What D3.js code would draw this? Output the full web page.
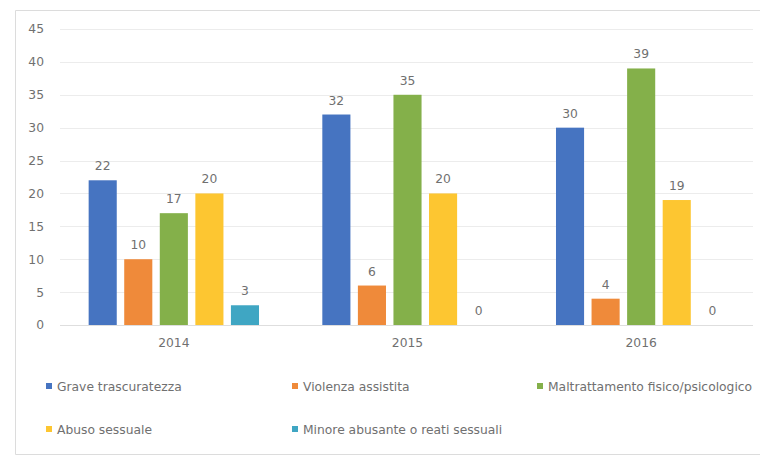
<!DOCTYPE html>
<html>
<head>
<meta charset="utf-8">
<script src="https://cdn.jsdelivr.net/npm/d3@7"></script>
<style>
  html, body { margin: 0; padding: 0; background: #fff; overflow: hidden; }
  svg { display: block; }
  text { font-family: "DejaVu Sans", sans-serif; fill: #707070; }
</style>
</head>
<body>
<svg id="chart" width="760" height="457"></svg>
<script>
// Anni e categorie di casi
const years = ["2014", "2015", "2016"];
const seriesNames = [
  "Grave trascuratezza",
  "Violenza assistita",
  "Maltrattamento fisico/psicologico",
  "Abuso sessuale",
  "Minore abusante o reati sessuali"
];
const graveTrascuratezza = [22, 32, 30];
const violenzaAssistita = [10, 6, 4];
const maltrattamento = [17, 35, 39];
const abusoSessuale = [20, 20, 19];
const minoreAbusante = [3, 0, 0];
const yTicks = [0, 5, 10, 15, 20, 25, 30, 35, 40, 45];
const seriesColors = ["#4674c1", "#ef8a3a", "#84b04a", "#fdc631", "#3fa6c3"];

const seriesValues = [graveTrascuratezza, violenzaAssistita, maltrattamento, abusoSessuale, minoreAbusante];
const FONT = "'DejaVu Sans', sans-serif";
const FS = 12.3;

const svg = d3.select("#chart");

// cornice dell'area grafico: lato sinistro, superiore e inferiore
svg.append("path")
  .attr("d", "M760,10.5 H15.5 V454.5 H760")
  .attr("fill", "none").attr("stroke", "#dcdcdc").attr("stroke-width", 1);

const plot = { left: 57, right: 758, top: 29, bottom: 325 };

const y = d3.scaleLinear().domain([0, 45]).range([plot.bottom, plot.top]);
const x0 = d3.scaleBand().domain(years).range([plot.left, plot.right]).padding(0);
const x1 = d3.scaleBand().domain(seriesNames)
  .range([0, x0.bandwidth()])
  .paddingInner(0.21).paddingOuter(0.89);

// griglia orizzontale
svg.append("g")
  .selectAll("line")
  .data(yTicks)
  .join("line")
  .attr("x1", 60).attr("x2", 753)
  .attr("y1", d => Math.round(y(d)) + 0.5)
  .attr("y2", d => Math.round(y(d)) + 0.5)
  .attr("stroke", d => d === 0 ? "#dedede" : "#ececec")
  .attr("stroke-width", 1);

// asse y
const yAxis = d3.axisLeft(y).tickValues(yTicks).tickSize(0).tickPadding(0);
svg.append("g")
  .attr("transform", "translate(44,0)")
  .call(yAxis)
  .call(g => g.select(".domain").remove())
  .call(g => g.selectAll("text")
    .attr("font-size", FS)
    .attr("fill", "#707070")
    .style("font-family", FONT));

// asse x (anni)
const xAxis = d3.axisBottom(x0).tickSize(0).tickPadding(0);
svg.append("g")
  .attr("transform", `translate(0,${plot.bottom + 13})`)
  .call(xAxis)
  .call(g => g.select(".domain").remove())
  .call(g => g.selectAll("text")
    .attr("font-size", FS)
    .attr("fill", "#707070")
    .style("font-family", FONT));

// barre raggruppate
const rows = years.map((yr, i) => ({
  year: yr,
  values: seriesNames.map((s, k) => ({ series: s, k, value: seriesValues[k][i] }))
}));

const groups = svg.append("g")
  .selectAll("g")
  .data(rows)
  .join("g")
  .attr("transform", d => `translate(${x0(d.year)},0)`);

groups.selectAll("rect")
  .data(d => d.values)
  .join("rect")
  .attr("x", d => x1(d.series))
  .attr("y", d => y(d.value))
  .attr("width", x1.bandwidth())
  .attr("height", d => y(0) - y(d.value))
  .attr("fill", d => seriesColors[d.k]);

groups.selectAll("text")
  .data(d => d.values)
  .join("text")
  .attr("x", d => x1(d.series) + x1.bandwidth() / 2)
  .attr("y", d => y(d.value) - 10)
  .attr("text-anchor", "middle")
  .attr("font-size", FS)
  .text(d => d.value);

// legenda
const legendPos = [
  { x: 46, y: 386 }, { x: 292, y: 386 }, { x: 537, y: 386 },
  { x: 46, y: 429 }, { x: 292, y: 429 }
];
const legend = svg.append("g")
  .selectAll("g")
  .data(seriesNames)
  .join("g")
  .attr("transform", (d, i) => `translate(${legendPos[i].x},${legendPos[i].y})`);

legend.append("rect")
  .attr("x", 0).attr("y", -3)
  .attr("width", 6).attr("height", 6)
  .attr("fill", (d, i) => seriesColors[i]);

legend.append("text")
  .attr("x", 11).attr("y", 4.5)
  .attr("font-size", FS)
  .text(d => d);
</script>
</body>
</html>
